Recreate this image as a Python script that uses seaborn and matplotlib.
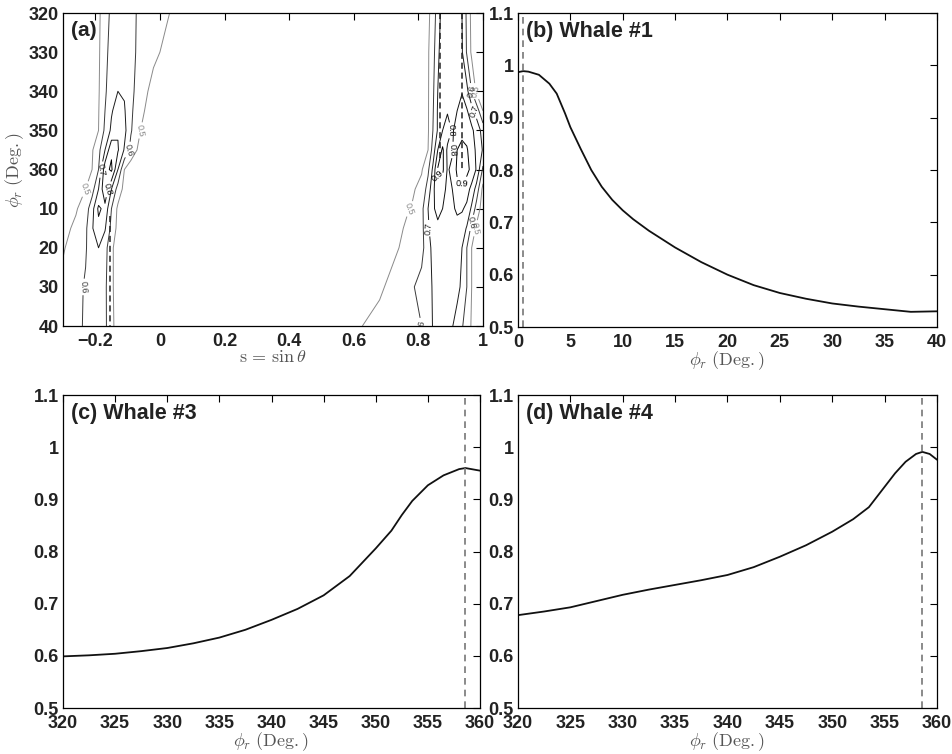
import numpy as np
import pandas as pd
import matplotlib
matplotlib.use('Agg')
import matplotlib.pyplot as plt
import seaborn as sns

# ---- panel (a): correlation surface on a coarse grid ----
# phi_r rows (deg, 320..360 stored as -40..0)
PHI_ROWS = [-40, -30, -20, -15, -10, -5, 0, 5, 10, 15, 20, 30, 40]
# s columns: left ridge block, then right ridge block
S_LEFT = [-0.30, -0.26, -0.23, -0.21, -0.19, -0.17, -0.15, -0.13, -0.11, -0.09, -0.06, -0.02, 0.02, 0.06, 0.10]
S_RIGHT = [0.30, 0.50, 0.60, 0.68, 0.74, 0.78, 0.81, 0.83, 0.845, 0.86, 0.875, 0.89, 0.905, 0.92, 0.935, 0.95, 0.965, 0.98, 1.0]

Z_LEFT = [
    [0.36, 0.40, 0.44, 0.46, 0.48, 0.56, 0.62, 0.645, 0.645, 0.625, 0.58, 0.545, 0.51, 0.47, 0.43],
    [0.37, 0.41, 0.45, 0.47, 0.485, 0.57, 0.64, 0.67, 0.665, 0.63, 0.57, 0.52, 0.48, 0.44, 0.40],
    [0.38, 0.42, 0.46, 0.475, 0.49, 0.585, 0.66, 0.70, 0.69, 0.63, 0.54, 0.47, 0.43, 0.40, 0.37],
    [0.385, 0.425, 0.465, 0.48, 0.495, 0.60, 0.69, 0.745, 0.71, 0.62, 0.52, 0.455, 0.415, 0.385, 0.36],
    [0.39, 0.43, 0.47, 0.485, 0.50, 0.62, 0.72, 0.79, 0.73, 0.61, 0.50, 0.44, 0.40, 0.37, 0.35],
    [0.40, 0.44, 0.475, 0.49, 0.57, 0.70, 0.88, 0.81, 0.69, 0.57, 0.46, 0.41, 0.38, 0.36, 0.34],
    [0.41, 0.45, 0.48, 0.50, 0.60, 0.86, 0.92, 0.70, 0.50, 0.44, 0.40, 0.37, 0.35, 0.34, 0.33],
    [0.42, 0.46, 0.50, 0.56, 0.70, 0.88, 0.70, 0.56, 0.47, 0.42, 0.38, 0.35, 0.34, 0.33, 0.32],
    [0.45, 0.49, 0.55, 0.66, 0.82, 0.77, 0.60, 0.48, 0.43, 0.40, 0.37, 0.34, 0.33, 0.32, 0.31],
    [0.47, 0.52, 0.58, 0.69, 0.77, 0.71, 0.57, 0.47, 0.42, 0.39, 0.36, 0.335, 0.325, 0.315, 0.305],
    [0.49, 0.55, 0.59, 0.66, 0.70, 0.64, 0.52, 0.45, 0.41, 0.38, 0.35, 0.33, 0.32, 0.31, 0.30],
    [0.53, 0.57, 0.61, 0.65, 0.66, 0.62, 0.52, 0.45, 0.41, 0.38, 0.35, 0.33, 0.32, 0.31, 0.30],
    [0.55, 0.58, 0.61, 0.64, 0.65, 0.62, 0.53, 0.45, 0.41, 0.38, 0.35, 0.33, 0.32, 0.31, 0.30],
]
Z_RIGHT = [
    [0.30, 0.33, 0.35, 0.38, 0.41, 0.44, 0.46, 0.48, 0.54, 0.65, 0.74, 0.76, 0.76, 0.74, 0.70, 0.58, 0.47, 0.43, 0.40],
    [0.30, 0.33, 0.36, 0.39, 0.42, 0.45, 0.47, 0.49, 0.56, 0.68, 0.75, 0.77, 0.77, 0.76, 0.71, 0.59, 0.48, 0.44, 0.41],
    [0.30, 0.34, 0.37, 0.40, 0.43, 0.46, 0.48, 0.49, 0.58, 0.70, 0.76, 0.77, 0.77, 0.78, 0.795, 0.73, 0.60, 0.48, 0.42],
    [0.305, 0.345, 0.375, 0.405, 0.435, 0.465, 0.48, 0.49, 0.59, 0.71, 0.78, 0.79, 0.78, 0.80, 0.83, 0.81, 0.74, 0.66, 0.50],
    [0.31, 0.35, 0.38, 0.41, 0.44, 0.47, 0.48, 0.49, 0.60, 0.71, 0.80, 0.85, 0.79, 0.83, 0.87, 0.86, 0.82, 0.76, 0.66],
    [0.31, 0.36, 0.39, 0.42, 0.45, 0.47, 0.485, 0.50, 0.64, 0.80, 0.92, 0.78, 0.79, 0.90, 0.93, 0.91, 0.85, 0.78, 0.69],
    [0.32, 0.37, 0.40, 0.43, 0.46, 0.48, 0.49, 0.58, 0.72, 0.91, 0.92, 0.79, 0.82, 0.92, 0.95, 0.93, 0.87, 0.79, 0.58],
    [0.32, 0.38, 0.41, 0.44, 0.47, 0.485, 0.53, 0.64, 0.77, 0.88, 0.86, 0.76, 0.80, 0.87, 0.88, 0.84, 0.77, 0.66, 0.47],
    [0.33, 0.39, 0.43, 0.46, 0.48, 0.505, 0.57, 0.70, 0.79, 0.82, 0.80, 0.78, 0.79, 0.81, 0.81, 0.78, 0.68, 0.56, 0.45],
    [0.335, 0.395, 0.435, 0.465, 0.49, 0.52, 0.57, 0.685, 0.76, 0.785, 0.78, 0.77, 0.775, 0.78, 0.755, 0.69, 0.57, 0.48, 0.43],
    [0.34, 0.40, 0.44, 0.47, 0.50, 0.53, 0.57, 0.66, 0.73, 0.75, 0.76, 0.76, 0.76, 0.75, 0.70, 0.60, 0.50, 0.45, 0.42],
    [0.35, 0.42, 0.46, 0.49, 0.53, 0.59, 0.63, 0.66, 0.71, 0.74, 0.75, 0.75, 0.74, 0.73, 0.68, 0.60, 0.50, 0.45, 0.42],
    [0.36, 0.44, 0.49, 0.52, 0.54, 0.565, 0.60, 0.65, 0.705, 0.73, 0.74, 0.73, 0.705, 0.66, 0.61, 0.55, 0.49, 0.45, 0.42],
]
LEVELS = [0.5, 0.6, 0.7, 0.8, 0.9]
LEVEL_COLORS = ['#8a8a8a', '#3a3a3a', '#1c1c1c', '#111111', '#000000']

# true source positions in (a): s value and phi extent
SRC_S = [-0.156, 0.868, 0.934]
SRC_PHI = [(12, 40), (-40, -3), (-40, 0)]

# ---- panels (b)-(d): correlation along phi_r ----
B_PHI = [0, 0.5, 1, 2, 3, 3.7, 4.5, 5, 6, 7, 8, 9, 10, 11, 12.5, 15, 17.5, 20,
         22.5, 25, 27.5, 30, 32.5, 35, 37.5, 40]
B_VAL = [0.987, 0.989, 0.988, 0.982, 0.965, 0.946, 0.908, 0.882, 0.840, 0.800, 0.768, 0.743,
         0.723, 0.706, 0.684, 0.652, 0.624, 0.600, 0.580, 0.565, 0.554, 0.545, 0.539, 0.534,
         0.529, 0.530]

C_PHI = [320, 322.5, 325, 327.5, 330, 332.5, 335, 337.5, 340, 342.5, 345, 347.5, 350, 351.5,
         352.5, 353.5, 355, 356.5, 358, 358.6, 360]
C_VAL = [0.599, 0.601, 0.604, 0.609, 0.615, 0.624, 0.635, 0.650, 0.669, 0.690, 0.716, 0.753,
         0.806, 0.840, 0.870, 0.897, 0.927, 0.946, 0.958, 0.960, 0.955]

D_PHI = [320, 322.5, 325, 327.5, 330, 332.5, 335, 337.5, 340, 342.5, 345, 347.5, 350, 352,
         353.5, 355, 356, 357, 358, 358.6, 359.3, 360]
D_VAL = [0.678, 0.685, 0.693, 0.705, 0.717, 0.727, 0.736, 0.745, 0.755, 0.770, 0.790, 0.812,
         0.838, 0.862, 0.885, 0.924, 0.950, 0.972, 0.987, 0.991, 0.987, 0.976]

B_TRUE = 0.5
C_TRUE = 358.6
D_TRUE = 358.6

sns.set_style("white")
plt.rcParams['font.family'] = ['Liberation Sans', 'DejaVu Sans']
plt.rcParams['mathtext.fontset'] = 'cm'
plt.rcParams['axes.linewidth'] = 0.9

fig = plt.figure(figsize=(9.53, 7.54), dpi=100)
ax_a = fig.add_axes([0.0661, 0.5676, 0.4407, 0.4151])
ax_b = fig.add_axes([0.5435, 0.5663, 0.4397, 0.4164])
ax_c = fig.add_axes([0.0661, 0.0610, 0.4376, 0.4151])
ax_d = fig.add_axes([0.5435, 0.0610, 0.4397, 0.4151])

LABEL_COLOR = '#555555'


def style_axes(ax):
    ax.tick_params(direction='in', length=5, width=0.8, top=True, right=True,
                   labelsize=13, pad=3, colors='black')
    ax.tick_params(axis='x', pad=5)
    for lab in ax.get_xticklabels() + ax.get_yticklabels():
        lab.set_fontweight('bold')
        lab.set_color('#222222')
    for sp in ax.spines.values():
        sp.set_color('black')


# (a) contour map
S = np.array(S_LEFT + S_RIGHT)
Z = np.hstack([np.array(Z_LEFT), np.array(Z_RIGHT)])
cs = ax_a.contour(S, np.array(PHI_ROWS), Z, levels=LEVELS, colors=LEVEL_COLORS,
                  linewidths=0.7)
ax_a.clabel(cs, fmt='%.1f', fontsize=6.5, inline=True, inline_spacing=2)
for s0, (p0, p1) in zip(SRC_S, SRC_PHI):
    ax_a.plot([s0, s0], [p0, p1], color='#222222', lw=1.1, ls=(0, (4, 2.5)))
ax_a.set_xlim(-0.3, 1.0)
ax_a.set_ylim(40, -40)
ax_a.set_xticks([-0.2, 0, 0.2, 0.4, 0.6, 0.8, 1])
ax_a.set_xticklabels(['\u22120.2', '0', '0.2', '0.4', '0.6', '0.8', '1'])
ax_a.set_yticks(np.arange(-40, 41, 10))
ax_a.set_yticklabels(['320', '330', '340', '350', '360', '10', '20', '30', '40'])
ax_a.set_xlabel(r'$\mathrm{s}\,=\,\sin\theta$', fontsize=13, color=LABEL_COLOR, labelpad=-1)
ax_a.set_ylabel(r'$\phi_r\ (\mathrm{Deg.})$', fontsize=13, color=LABEL_COLOR, labelpad=2)
ax_a.text(0.02, 0.975, '(a)', transform=ax_a.transAxes, ha='left', va='top',
          fontsize=15, fontweight='bold', color='#222222')
style_axes(ax_a)

# (b)-(d) line panels
panels = [
    (ax_b, B_PHI, B_VAL, B_TRUE, '(b) Whale #1', (0, 40), np.arange(0, 41, 5)),
    (ax_c, C_PHI, C_VAL, C_TRUE, '(c) Whale #3', (320, 360), np.arange(320, 361, 5)),
    (ax_d, D_PHI, D_VAL, D_TRUE, '(d) Whale #4', (320, 360), np.arange(320, 361, 5)),
]
for ax, phi, val, true_phi, title, xlim, xticks in panels:
    df = pd.DataFrame({'phi': phi, 'corr': val})
    sns.lineplot(data=df, x='phi', y='corr', ax=ax, color='#111111', lw=1.3, sort=False)
    ax.axvline(true_phi, color='#777777', lw=1.2, ls=(0, (4, 3)))
    ax.set_xlim(*xlim)
    ax.set_ylim(0.5, 1.1)
    ax.set_xticks(xticks)
    ax.set_xticklabels([str(int(t)) for t in xticks])
    ax.set_yticks([0.5, 0.6, 0.7, 0.8, 0.9, 1.0, 1.1])
    ax.set_yticklabels(['0.5', '0.6', '0.7', '0.8', '0.9', '1', '1.1'])
    ax.set_xlabel(r'$\phi_r\ (\mathrm{Deg.})$', fontsize=13, color=LABEL_COLOR, labelpad=-1)
    ax.set_ylabel('')
    ax.text(0.02, 0.975, title, transform=ax.transAxes, ha='left', va='top',
            fontsize=15.5, fontweight='bold', color='#222222')
    style_axes(ax)

fig.savefig('out.png', dpi=100)
